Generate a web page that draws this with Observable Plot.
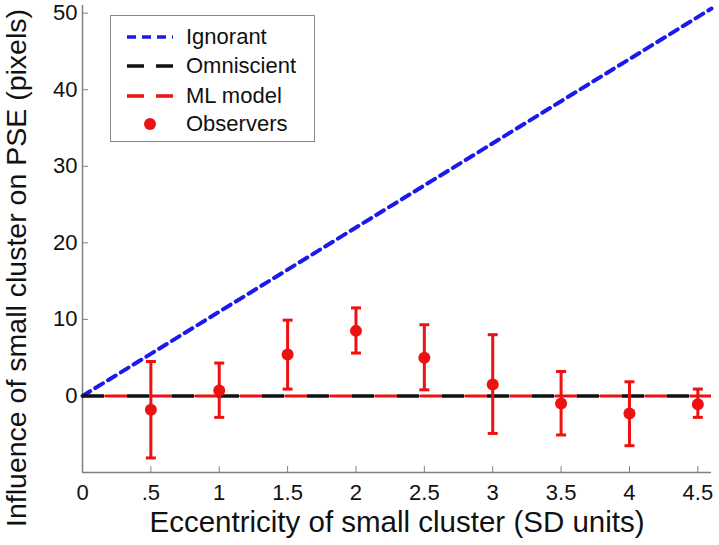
<!DOCTYPE html>
<html><head><meta charset="utf-8">
<script src="https://cdn.jsdelivr.net/npm/d3@7"></script>
<script src="https://cdn.jsdelivr.net/npm/@observablehq/plot@0.6"></script>
<style>
body{margin:0;background:#fff;font-family:"Liberation Sans",Arial,sans-serif}
#wrap{position:relative;width:719px;height:545px;overflow:hidden}
#legend{position:absolute;left:110px;top:15px;width:205px;height:127px;border:1.5px solid #8a8a8a;background:#fff;box-sizing:border-box;font-size:22px;color:#111}
.row{position:absolute;left:0;height:30px;display:flex;align-items:center}
.row svg{margin-left:16px}
.row span{margin-left:13px}
</style></head><body><div id="wrap"><div id="legend"></div></div>
<script>
// data
const eccentricity = [0.5, 1, 1.5, 2, 2.5, 3, 3.5, 4, 4.5];
const observerMean = [-1.8, 0.7, 5.4, 8.5, 5.0, 1.5, -1.0, -2.3, -1.1];
const observerHigh = [4.5, 4.3, 9.9, 11.5, 9.3, 8.0, 3.2, 1.85, 0.9];
const observerLow  = [-8.1, -2.8, 0.9, 5.6, 0.8, -4.9, -5.1, -6.5, -2.8];
const ignorantX = [0, 4.6];
const ignorantY = [0, 50.6];
const omniscientLevel = [0];
const mlModelLevel = [0];
const xTicks = [0, 0.5, 1, 1.5, 2, 2.5, 3, 3.5, 4, 4.5];
const xTickLabels = ["0", ".5", "1", "1.5", "2", "2.5", "3", "3.5", "4", "4.5"];
const yTicks = [0, 10, 20, 30, 40, 50];
const legendLabels = ["Ignorant", "Omniscient", "ML model", "Observers"];
const xTitle = "Eccentricity of small cluster (SD units)";
const yTitle = "Influence of small cluster on PSE (pixels)";

const RED = "#ee1111", BLUE = "#1a1aee", AX = "#808080";
const observers = eccentricity.map((x, i) => ({x, mean: observerMean[i], hi: observerHigh[i], lo: observerLow[i]}));
const ignorant = ignorantX.map((x, i) => ({x, y: ignorantY[i]}));
const capSymbol = {draw(ctx, size) { const r = Math.sqrt(size / Math.PI); ctx.moveTo(-r, 0); ctx.lineTo(r, 0); }};

const chart = Plot.plot({
  width: 719, height: 545,
  marginLeft: 82, marginRight: 8, marginTop: 5, marginBottom: 73,
  style: {fontFamily: "'Liberation Sans', Arial, sans-serif", fontSize: "22px", color: "#111", background: "#fff", overflow: "visible"},
  x: {domain: [0, 4.6], label: null},
  y: {domain: [-10, 51], label: null},
  marks: [
    Plot.ruleY([-10], {stroke: AX, strokeWidth: 1.5}),
    Plot.ruleX([0], {stroke: AX, strokeWidth: 1.5}),
    Plot.axisX({ticks: xTicks, tickFormat: () => "", tickSize: 6, dy: -6, stroke: AX, label: null}),
    Plot.axisX({ticks: xTicks, tickFormat: (d) => xTickLabels[xTicks.indexOf(d)], tickSize: 0, tickPadding: 12, label: null, fontSize: 22}),
    Plot.axisY({ticks: yTicks, tickFormat: () => "", tickSize: 6, dx: 6, stroke: AX, label: null}),
    Plot.axisY({ticks: yTicks, tickFormat: (d) => String(d), tickSize: 0, tickPadding: 5, label: null, fontSize: 22}),
    Plot.text([xTitle], {frameAnchor: "bottom", textAnchor: "middle", lineAnchor: "middle", dx: 0, dy: 50, fontSize: 29.5, fill: "#111"}),
    Plot.text([yTitle], {frameAnchor: "left", textAnchor: "middle", lineAnchor: "middle", rotate: -90, dx: -66, dy: 29, fontSize: 28.5, fill: "#111"}),
    Plot.line(ignorant, {x: "x", y: "y", stroke: BLUE, strokeWidth: 4, strokeDasharray: "9,6"}),
    Plot.ruleY(mlModelLevel, {stroke: RED, strokeWidth: 1.5}),
    Plot.ruleY(omniscientLevel, {stroke: "#111", strokeWidth: 3.5, strokeDasharray: "22,23"}),
    Plot.ruleY(mlModelLevel, {stroke: RED, strokeWidth: 3, strokeDasharray: "22,23", strokeDashoffset: 22}),
    Plot.ruleX(observers, {x: "x", y1: "lo", y2: "hi", stroke: RED, strokeWidth: 3}),
    Plot.dot(observers, {x: "x", y: "hi", symbol: capSymbol, r: 5, stroke: RED, strokeWidth: 3, fill: "none"}),
    Plot.dot(observers, {x: "x", y: "lo", symbol: capSymbol, r: 5, stroke: RED, strokeWidth: 3, fill: "none"}),
    Plot.dot(observers, {x: "x", y: "mean", r: 6, fill: RED, stroke: "none"})
  ]
});
document.getElementById("wrap").prepend(chart);

// legend
const samples = [
  `<line x1="0" y1="8" x2="46" y2="8" stroke="${BLUE}" stroke-width="3.5" stroke-dasharray="9,6"/>`,
  `<line x1="0" y1="8" x2="46" y2="8" stroke="#111" stroke-width="3.5" stroke-dasharray="17,12"/>`,
  `<line x1="0" y1="8" x2="46" y2="8" stroke="${RED}" stroke-width="3.5" stroke-dasharray="17,12"/>`,
  `<circle cx="23" cy="8" r="6" fill="${RED}"/>`
];
const rowTops = [6, 35, 65, 93];
const legend = document.getElementById("legend");
legendLabels.forEach((lab, i) => {
  const row = document.createElement("div");
  row.className = "row";
  row.style.top = rowTops[i] + "px";
  row.innerHTML = `<svg width="46" height="16">${samples[i]}</svg><span>${lab}</span>`;
  legend.appendChild(row);
});
</script></body></html>
